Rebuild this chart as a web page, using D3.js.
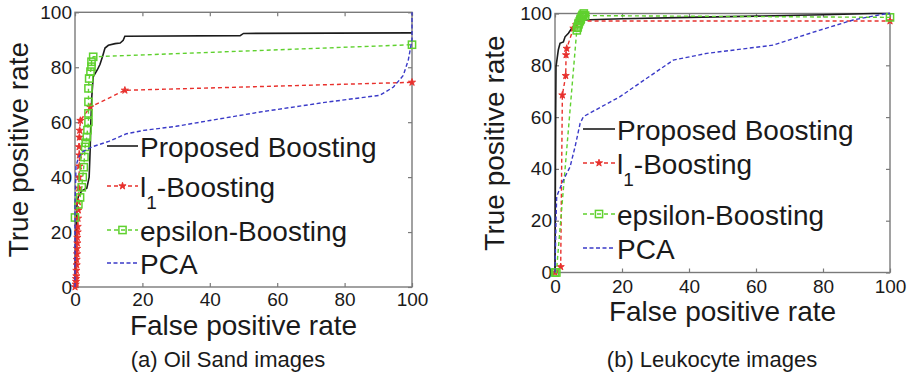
<!DOCTYPE html>
<html>
<head>
<meta charset="utf-8">
<script src="https://cdn.jsdelivr.net/npm/d3@7"></script>
<style>
  html, body { margin: 0; padding: 0; background: #fff; }
  svg { display: block; }
  text { font-family: "Liberation Sans", Arial, Helvetica, sans-serif; fill: #1a1a1a; }
</style>
</head>
<body>
<svg id="fig" width="916" height="387"></svg>
<script>
// Axis ticks shared by both ROC panels (percent)
const xTicks = [0, 20, 40, 60, 80, 100];
const yTicks = [0, 20, 40, 60, 80, 100];

// Legend entries, in plotting order
const seriesNames = ["Proposed Boosting", "l1-Boosting", "epsilon-Boosting", "PCA"];

// (a) Oil Sand images: [false positive rate, true positive rate]
const oilProposed = [[0,0],[0.3,20],[0.6,30],[1,33],[2,35],[3.5,36],[4.2,40],[4.5,50],[4.7,60],[5,69.5],
  [5.4,76.5],[6.6,79],[7.4,81],[8.2,84],[8.9,87],[9.9,88],[11.9,88.6],[13.4,88.8],[14.3,89.8],[14.8,91.3],
  [49,91.5],[50,92.3],[100,92.5]];
const oilL1 = [[0,0],[0.2,1],[0.3,2],[0.3,3],[0.4,4],[0.4,6],[0.5,8],[0.5,10],[0.6,12],[0.6,14],[0.7,16],
  [0.7,18],[0.8,20],[0.8,22],[0.9,25],[1,28],[1,31],[1.1,36],[1.2,40],[1.3,44],[1.3,48],[1.2,51],[1.3,54.5],
  [1.4,57],[1.6,60.6],[4.5,65.5],[14.8,71.6],[100,74.5]];
const oilEpsilon = [[0,25.3],[1,30.1],[1.5,32.6],[2,36.3],[2.3,40],[2.6,43.6],[2.8,47.3],[3,51],[3.2,52.5],
  [3.5,54.6],[3.7,57.1],[4,60.1],[4,63.2],[4,67.4],[4,72.3],[4.2,75.9],[4.6,78.4],[4.9,80.2],[4.9,82],
  [5.4,83.8],[100,88.2]];
const oilPca = [[0,0],[0,30],[0.3,44],[1,47],[2,49],[5,51],[10,53],[15.3,55.8],[20.3,57],[30,58.5],
  [40,60.6],[54.9,63.7],[74.7,67.3],[90.5,69.8],[94.5,72.8],[97.4,77],[98.9,82.6],[100,90],[100,100]];

// (b) Leukocyte images
const leukoProposed = [[0,0],[0.2,60],[0.3,79.5],[1,86],[1.5,88.5],[2.5,89],[3,91],[4,92.4],[5,94.3],
  [6,95.6],[7,97],[8,97.5],[20,98],[40,98.5],[60,99],[80,99.5],[95,100],[100,100]];
const leukoL1 = [[0,0],[1.7,2.2],[2.2,68.5],[3.2,76],[3.3,84],[3.5,86.5],[5.5,94.3],[6.3,95.6],[7,97.1],
  [100,97.1]];
const leukoEpsilon = [[0,0],[0.4,0],[6.5,93.5],[6.7,94.5],[6.8,95],[7,95.8],[7.1,96.3],[7.4,97],[7.6,97.6],
  [7.7,98],[8,98.8],[8.2,99.2],[8.3,99.5],[8.6,100],[9,99.2],[100,98.5]];
const leukoPca = [[0,0],[0.3,20],[0.5,29.3],[1,31],[2.5,35.7],[4.5,40.8],[6,48.6],[7.5,57.6],[8.5,60.2],
  [19.4,67.9],[35.3,82],[45.3,84.6],[65.2,87.8],[79.1,93.6],[89,97.5],[99,100],[100,100]];

const styles = [
  { color: "#1c1c1c", dash: null, marker: null },
  { color: "#e8302c", dash: "4,3", marker: "star" },
  { color: "#5fd12e", dash: "4,3", marker: "square" },
  { color: "#3a3ac8", dash: "4,2.5", marker: null }
];

const svg = d3.select("#fig");

function drawMarker(g, kind, color, x, y) {
  if (kind === "star") {
    g.append("path")
      .attr("d", d3.symbol(d3.symbolStar, 16)())
      .attr("transform", `translate(${x},${y})`)
      .attr("fill", color).attr("stroke", color).attr("stroke-width", 0.9);
  } else if (kind === "square") {
    g.append("rect")
      .attr("x", x - 3.6).attr("y", y - 3.6).attr("width", 7.2).attr("height", 7.2)
      .attr("fill", "none").attr("stroke", color).attr("stroke-width", 1.5);
  }
}

function drawPanel(p) {
  const x = d3.scaleLinear().domain([0, 100]).range([p.left, p.right]);
  const y = d3.scaleLinear().domain([0, 100]).range([p.bottom, p.top]);
  const g = svg.append("g");

  // inward ticks on all four sides, labels only on bottom and left
  const axes = [
    { ax: d3.axisBottom(x).tickFormat(d3.format("d")).tickPadding(p.xPad), t: `translate(0,${p.bottom})` },
    { ax: d3.axisLeft(y).tickFormat(d3.format("d")).tickPadding(3), t: `translate(${p.left},0)` },
    { ax: d3.axisTop(x).tickFormat(""), t: `translate(0,${p.top})` },
    { ax: d3.axisRight(y).tickFormat(""), t: `translate(${p.right},0)` }
  ];
  axes.forEach((a, i) => {
    a.ax.tickValues(i % 2 === 0 ? xTicks : yTicks).tickSizeInner(-4).tickSizeOuter(0);
    const ag = g.append("g").attr("transform", a.t).call(a.ax);
    ag.select(".domain").remove();
    ag.selectAll(".tick line").attr("stroke", "#7a7a7a").attr("stroke-width", 1.2);
    ag.selectAll(".tick text").attr("font-size", 19).attr("fill", "#1a1a1a")
      .style("font-family", '"Liberation Sans", Arial, sans-serif');
  });

  g.append("rect")
    .attr("x", p.left).attr("y", p.top)
    .attr("width", p.right - p.left).attr("height", p.bottom - p.top)
    .attr("fill", "none").attr("stroke", "#7a7a7a").attr("stroke-width", 1.4);

  const line = d3.line().x(d => x(d[0])).y(d => y(d[1]));
  p.series.forEach((data, i) => {
    const s = styles[i];
    g.append("path").datum(data)
      .attr("d", line)
      .attr("fill", "none").attr("stroke", s.color)
      .attr("stroke-width", i === 0 ? 1.6 : 1.4)
      .attr("stroke-dasharray", s.dash);
    if (s.marker) data.forEach(d => drawMarker(g, s.marker, s.color, x(d[0]), y(d[1])));
  });

  // axis titles
  g.append("text")
    .attr("transform", `translate(${p.yLabelX},${(p.top + p.bottom) / 2}) rotate(-90)`)
    .attr("text-anchor", "middle").attr("font-size", 28).text("True positive rate");
  g.append("text")
    .attr("x", (p.left + p.right) / 2).attr("y", p.xLabelY)
    .attr("text-anchor", "middle").attr("font-size", 28).text("False positive rate");

  // legend, no frame
  const lg = g.append("g");
  seriesNames.forEach((name, i) => {
    const s = styles[i];
    const ly = p.legendRows[i];
    lg.append("line")
      .attr("x1", p.legendX0).attr("x2", p.legendX1).attr("y1", ly).attr("y2", ly)
      .attr("stroke", s.color).attr("stroke-width", i === 0 ? 1.6 : 1.4)
      .attr("stroke-dasharray", s.dash);
    if (s.marker) drawMarker(lg, s.marker, s.color, (p.legendX0 + p.legendX1) / 2, ly);
    const t = lg.append("text").attr("x", p.legendX1 + 2).attr("y", ly + 10.5).attr("font-size", 28);
    if (name === "l1-Boosting") {
      t.append("tspan").text("l");
      t.append("tspan").attr("font-size", 19).attr("dy", 12).text("1");
      t.append("tspan").attr("dy", -12).text("-Boosting");
    } else {
      t.text(name);
    }
  });

  g.append("text")
    .attr("x", p.captionX).attr("y", 367)
    .attr("text-anchor", "middle").attr("font-size", 22).text(p.caption);
}

drawPanel({
  left: 75, right: 412, top: 12.3, bottom: 287, xPad: 6,
  yLabelX: 28, xLabelY: 335,
  legendX0: 107, legendX1: 138, legendRows: [146, 186, 230, 263],
  caption: "(a) Oil Sand images", captionX: 228,
  series: [oilProposed, oilL1, oilEpsilon, oilPca]
});

drawPanel({
  left: 555, right: 890, top: 13.5, bottom: 272.5, xPad: 7,
  yLabelX: 504, xLabelY: 321,
  legendX0: 583, legendX1: 615, legendRows: [129, 163, 214, 248],
  caption: "(b) Leukocyte images", captionX: 712,
  series: [leukoProposed, leukoL1, leukoEpsilon, leukoPca]
});
</script>
</body>
</html>
